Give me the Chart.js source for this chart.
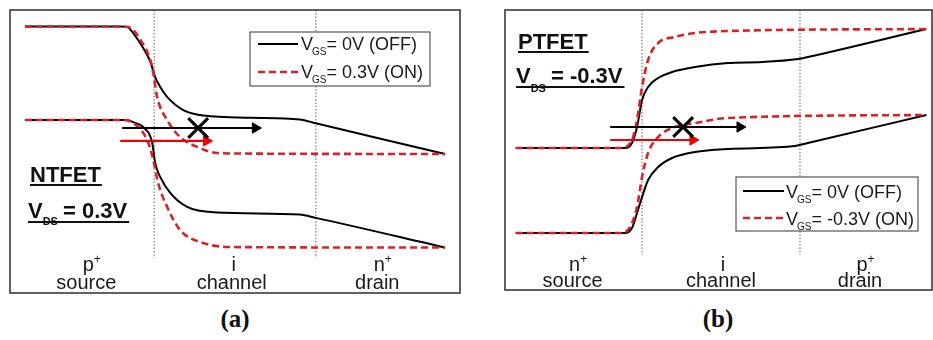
<!DOCTYPE html>
<html>
<head>
<meta charset="utf-8">
<script src="https://cdn.jsdelivr.net/npm/chart.js@4.4.1/dist/chart.umd.min.js"></script>
<style>
  html, body { margin: 0; padding: 0; background: #fff; width: 933px; height: 340px; overflow: hidden; }
  .panel { position: absolute; top: 0; }
  .cap { position: absolute; top: 305px; width: 80px; text-align: center;
         font: bold 25px "Liberation Serif", "Times New Roman", serif; color: #111; }
</style>
</head>
<body>
<div class="panel" style="left:0;width:470px;height:300px"><canvas id="cA" width="470" height="300"></canvas></div>
<div class="panel" style="left:495px;width:438px;height:300px"><canvas id="cB" width="438" height="300"></canvas></div>
<div class="cap" style="left:195px">(a)</div>
<div class="cap" style="left:678px">(b)</div>
<script>
// ---- NTFET band diagram: position along device (nm, channel 0–50), energy (eV)
const ntX_EcOff = [-40, -10.5, -8.3, -6.5, -3.4, -1.2, 0.3, 1.9, 4.0, 9.0, 14.2, 20, 30, 45, 50, 90];
const ntE_EcOff = [0.85, 0.85, 0.845, 0.79, 0.655, 0.53, 0.39, 0.30, 0.21, 0.09, 0.045, 0.03, 0.02, 0.005, -0.03, -0.31];
const ntX_EcOn  = [-40, -10.5, -8.0, -4.3, -0.6, 0.9, 4.0, 8.0, 14.2, 19.4, 26.5, 90];
const ntE_EcOn  = [0.85, 0.85, 0.845, 0.73, 0.48, 0.21, 0.0, -0.155, -0.255, -0.30, -0.305, -0.31];
const ntX_EvOff = [-40, -8.3, -6.5, -3.4, -0.6, 0.3, 1.9, 4.9, 10.2, 19.4, 45, 50, 90];
const ntE_EvOff = [0, 0, -0.02, -0.064, -0.21, -0.39, -0.52, -0.66, -0.79, -0.84, -0.86, -0.89, -1.16];
const ntX_EvOn  = [-40, -10.5, -6.5, -2.2, -0.3, 1.2, 4.0, 8.0, 14.2, 24.4, 90];
const ntE_EvOn  = [0, 0, -0.027, -0.18, -0.36, -0.57, -0.79, -1.0, -1.11, -1.155, -1.16];
const ntArrowOffX = [-9.9, 31.3];
const ntArrowOffE = [-0.073, -0.073];
const ntArrowOnX  = [-10.5, 16.2];
const ntArrowOnE  = [-0.19, -0.19];
const ntBlockX = [13.6];
const ntBlockE = [-0.073];
const ntLegend = ['= 0V (OFF)', '= 0.3V (ON)'];
const ntTitle = ['NTFET', '= 0.3V'];

// ---- PTFET band diagram
const ptX_EcOff = [-40, -5.4, -3.2, -1.6, 0, 1.9, 5.1, 9.5, 16.8, 27.2, 38, 49.4, 52.5, 90];
const ptE_EcOff = [0.85, 0.85, 0.90, 1.06, 1.33, 1.46, 1.55, 1.61, 1.66, 1.70, 1.71, 1.74, 1.76, 2.04];
const ptX_EcOn  = [-40, -7.0, -3.2, -1.6, 0, 1.9, 5.1, 10.4, 16.8, 27.2, 90];
const ptE_EcOn  = [0.85, 0.85, 0.93, 1.13, 1.46, 1.73, 1.90, 1.96, 2.00, 2.02, 2.04];
const ptX_EvOff = [-40, -5.4, -3.2, -1.6, 0, 1.9, 5.1, 9.5, 16.8, 27.2, 48.4, 52.5, 90];
const ptE_EvOff = [0, 0, 0.05, 0.20, 0.36, 0.53, 0.66, 0.75, 0.81, 0.84, 0.87, 0.90, 1.18];
const ptX_EvOn  = [-40, -6.3, -3.8, -1.6, 0, 1.9, 5.1, 10.4, 16.8, 27.2, 90];
const ptE_EvOn  = [0, 0, 0.06, 0.26, 0.56, 0.80, 0.96, 1.06, 1.10, 1.15, 1.18];
const ptArrowOffX = [-10.1, 31.0];
const ptArrowOffE = [1.06, 1.06];
const ptArrowOnX  = [-10.1, 16.1];
const ptArrowOnE  = [0.93, 0.93];
const ptBlockX = [13.0];
const ptBlockE = [1.06];
const ptLegend = ['= 0V (OFF)', '= -0.3V (ON)'];
const ptTitle = ['PTFET', '= -0.3V'];

// ---- device regions (junctions at 0 and 50 nm)
const junctions = [0, 50];
const regionPos = { nt: [-21, 24, 69], pt: [-22, 25, 69] };
const regionLetter = { nt: ['p', 'i', 'n'], pt: ['n', 'i', 'p'] };
const regionSup = { nt: ['+', '', '+'], pt: ['+', '', '+'] };
const regionName = ['source', 'channel', 'drain'];

const RED = '#d8222a';
const BLACK = '#000000';

const pts = (xs, ys) => xs.map((x, i) => ({ x, y: ys[i] }));

function curve(xs, ys, color, dashed) {
  return {
    data: pts(xs, ys),
    borderColor: color,
    borderWidth: dashed ? 2.6 : 2,
    borderDash: dashed ? [7, 4] : [],
    pointRadius: 0,
    cubicInterpolationMode: 'monotone',
    fill: false
  };
}
function arrow(xs, ys, color) {
  return {
    data: pts(xs, ys),
    borderColor: color,
    borderWidth: 2.2,
    pointRadius: [0, 6],
    pointStyle: 'triangle',
    pointRotation: 90,
    pointBackgroundColor: color,
    pointBorderColor: color,
    pointBorderWidth: 1,
    fill: false
  };
}
function blockMark(xs, ys) {
  return {
    data: pts(xs, ys),
    showLine: false,
    pointStyle: 'crossRot',
    pointRadius: 14,
    pointBorderWidth: 3,
    pointBorderColor: BLACK
  };
}
function junctionLine(x, top, bottom) {
  return {
    data: [{ x, y: top }, { x, y: bottom }],
    borderColor: '#8c8c8c',
    borderWidth: 1.4,
    borderDash: [1.5, 1.8],
    pointRadius: 0,
    fill: false
  };
}

// Frame, annotations, region labels and the in-plot legend
const bandDecor = {
  id: 'bandDecor',
  afterDraw(chart) {
    const o = chart.options.plugins.bandDecor;
    const ctx = chart.ctx;
    const a = chart.chartArea;
    const xs = chart.scales.x;
    ctx.save();

    // frame
    ctx.strokeStyle = '#3a3a3a';
    ctx.lineWidth = 1.6;
    ctx.strokeRect(a.left, a.top, a.right - a.left, a.bottom - a.top);

    // title block
    const t = o.title;
    ctx.fillStyle = '#111';
    ctx.textBaseline = 'alphabetic';
    ctx.textAlign = 'left';
    ctx.font = 'bold 22px "Liberation Sans", Arial, sans-serif';
    ctx.fillText(t.name, t.x, t.y1);
    const wName = ctx.measureText(t.name).width;
    ctx.fillRect(t.x, t.y1 + 2, wName + 1, 2);
    ctx.fillText('V', t.x - 2, t.y2);
    const wV = ctx.measureText('V').width;
    ctx.font = 'bold 11px "Liberation Sans", Arial, sans-serif';
    ctx.fillText('DS', t.x - 2 + wV, t.y2 + t.subDy);
    const wDS = ctx.measureText('DS').width;
    ctx.font = 'bold 22px "Liberation Sans", Arial, sans-serif';
    const restX = t.x - 2 + wV + wDS + 5;
    ctx.fillText(t.value, restX, t.y2);
    const wVal = ctx.measureText(t.value).width;
    ctx.fillRect(t.x - 2, t.y2 + t.ulDy, restX + wVal - (t.x - 2) + 2, 2);

    // region labels
    ctx.fillStyle = '#1a1a1a';
    o.regions.pos.forEach((p, i) => {
      const cx = xs.getPixelForValue(p);
      ctx.textAlign = 'center';
      ctx.font = '20px "Liberation Sans", Arial, sans-serif';
      ctx.fillText(regionName[i], cx, o.regions.nameY);
      const L = o.regions.letter[i];
      const wl = ctx.measureText(L).width;
      ctx.fillText(L, cx + 2, o.regions.letterY);
      if (o.regions.sup[i]) {
        ctx.font = '12px "Liberation Sans", Arial, sans-serif';
        ctx.textAlign = 'left';
        ctx.fillText(o.regions.sup[i], cx + 2 + wl / 2, o.regions.letterY - 8);
      }
    });

    // legend
    const g = o.legend;
    ctx.fillStyle = '#fff';
    ctx.fillRect(g.x, g.y, g.w, g.h);
    ctx.strokeStyle = '#555';
    ctx.lineWidth = 1.2;
    ctx.strokeRect(g.x, g.y, g.w, g.h);
    g.rows.forEach((r, i) => {
      const ly = g.y + g.lineY[i];
      ctx.beginPath();
      ctx.strokeStyle = r.color;
      ctx.lineWidth = r.dashed ? 2.6 : 2.2;
      ctx.setLineDash(r.dashed ? [7, 4] : []);
      ctx.moveTo(g.x + g.sample[0], ly);
      ctx.lineTo(g.x + g.sample[1], ly);
      ctx.stroke();
      ctx.setLineDash([]);
      const by = g.y + g.baseY[i];
      let tx = g.x + g.textX;
      ctx.fillStyle = '#1a1a1a';
      ctx.textAlign = 'left';
      ctx.font = '18px "Liberation Sans", Arial, sans-serif';
      ctx.fillText('V', tx, by);
      tx += ctx.measureText('V').width - 1;
      ctx.font = '10px "Liberation Sans", Arial, sans-serif';
      ctx.fillText('GS', tx, by + 5);
      tx += ctx.measureText('GS').width;
      ctx.font = '18px "Liberation Sans", Arial, sans-serif';
      ctx.fillText(r.text, tx, by);
    });
    ctx.restore();
  }
};

function makePanel(id, cfg) {
  return new Chart(document.getElementById(id), {
    type: 'line',
    data: { datasets: cfg.datasets },
    options: {
      responsive: false,
      animation: false,
      events: [],
      layout: { padding: cfg.padding, autoPadding: false },
      scales: {
        x: { type: 'linear', display: false, min: cfg.xRange[0], max: cfg.xRange[1] },
        y: { type: 'linear', display: false, min: cfg.yRange[0], max: cfg.yRange[1] }
      },
      plugins: {
        legend: { display: false },
        tooltip: { enabled: false },
        bandDecor: cfg.decor
      }
    },
    plugins: [bandDecor]
  });
}

// (a) NTFET
makePanel('cA', {
  padding: { left: 10, right: 10, top: 10, bottom: 7 },
  xRange: [-44.6, 94.6],
  yRange: [-1.573, 1.0],
  datasets: [
    blockMark(ntBlockX, ntBlockE),
    arrow(ntArrowOffX, ntArrowOffE, BLACK),
    arrow(ntArrowOnX, ntArrowOnE, '#f00000'),
    curve(ntX_EcOn, ntE_EcOn, RED, true),
    curve(ntX_EvOn, ntE_EvOn, RED, true),
    curve(ntX_EcOff, ntE_EcOff, BLACK, false),
    curve(ntX_EvOff, ntE_EvOff, BLACK, false),
    junctionLine(junctions[0], 1.0, -1.255),
    junctionLine(junctions[1], 1.0, -1.255)
  ],
  decor: {
    title: { name: ntTitle[0], value: ntTitle[1], x: 30, y1: 182, y2: 218, subDy: 7, ulDy: 3 },
    regions: { pos: regionPos.nt, letter: regionLetter.nt, sup: regionSup.nt, letterY: 271, nameY: 289 },
    legend: {
      x: 250, y: 32, w: 180, h: 54, sample: [8, 48], textX: 51,
      lineY: [12, 40], baseY: [18, 46],
      rows: [
        { color: BLACK, dashed: false, text: ntLegend[0] },
        { color: RED, dashed: true, text: ntLegend[1] }
      ]
    }
  }
});

// (b) PTFET
makePanel('cB', {
  padding: { left: 10, right: 1, top: 10, bottom: 10 },
  xRange: [-43.4, 91.8],
  yRange: [-0.57, 2.23],
  datasets: [
    blockMark(ptBlockX, ptBlockE),
    arrow(ptArrowOffX, ptArrowOffE, BLACK),
    arrow(ptArrowOnX, ptArrowOnE, '#f00000'),
    curve(ptX_EcOn, ptE_EcOn, RED, true),
    curve(ptX_EvOn, ptE_EvOn, RED, true),
    curve(ptX_EcOff, ptE_EcOff, BLACK, false),
    curve(ptX_EvOff, ptE_EvOff, BLACK, false),
    junctionLine(junctions[0], 2.23, -0.22),
    junctionLine(junctions[1], 2.23, -0.22)
  ],
  decor: {
    title: { name: ptTitle[0], value: ptTitle[1], x: 23, y1: 49, y2: 83, subDy: 9, ulDy: 3 },
    regions: { pos: regionPos.pt, letter: regionLetter.pt, sup: regionSup.pt, letterY: 271, nameY: 287 },
    legend: {
      x: 241, y: 177, w: 182, h: 54, sample: [7, 48], textX: 50,
      lineY: [14, 41], baseY: [21, 48],
      rows: [
        { color: BLACK, dashed: false, text: ptLegend[0] },
        { color: RED, dashed: true, text: ptLegend[1] }
      ]
    }
  }
});
</script>
</body>
</html>
